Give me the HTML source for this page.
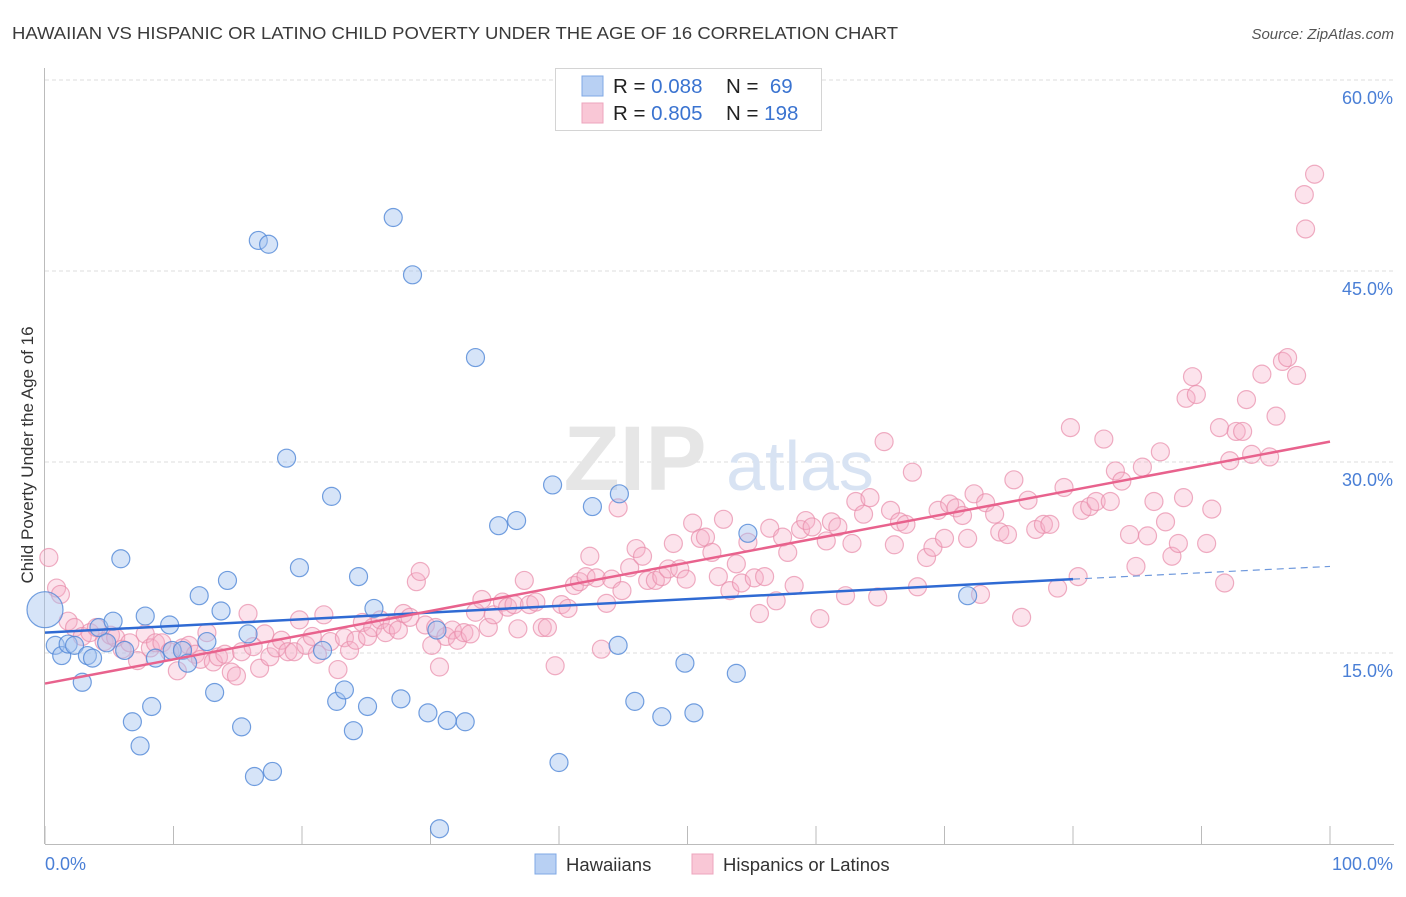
<!DOCTYPE html>
<html><head><meta charset="utf-8">
<style>
html,body{margin:0;padding:0;background:#fff;}
body{width:1406px;height:892px;overflow:hidden;font-family:"Liberation Sans",sans-serif;}
svg text{font-family:"Liberation Sans",sans-serif;}
</style></head>
<body>
<svg id="chart" width="1406" height="892" viewBox="0 0 1406 892" xmlns="http://www.w3.org/2000/svg">
<text x="12" y="39" font-size="17.5" fill="#3a3a3a" textLength="886" lengthAdjust="spacingAndGlyphs">HAWAIIAN VS HISPANIC OR LATINO CHILD POVERTY UNDER THE AGE OF 16 CORRELATION CHART</text>
<text x="1394" y="39" font-size="15" fill="#555" text-anchor="end" font-style="italic">Source: ZipAtlas.com</text>
<g id="grid"></g>
<g>
<text x="635" y="490" font-size="92" fill="#e6e6e6" font-family="Liberation Serif" text-anchor="middle" font-weight="bold">ZIP</text>
<text x="800" y="490" font-size="70" fill="#d8e3f3" text-anchor="middle">atlas</text>
</g>
<g id="axes"></g>
<g id="pinkPts"></g>
<g id="bluePts"></g>
<g id="lines"></g>
<text transform="translate(33,455) rotate(-90)" font-size="17" fill="#333" text-anchor="middle">Child Poverty Under the Age of 16</text>
<g>
<rect x="555.5" y="68.5" width="266" height="62" fill="#fff" stroke="#d4d4d4"/>
<rect x="582" y="76" width="21" height="20" fill="#b8d0f3" stroke="#7fa8e6"/>
<rect x="582" y="103" width="21" height="20" fill="#f9c7d6" stroke="#eda5bd"/>
<text x="613" y="93" font-size="20.5" fill="#222">R = <tspan fill="#3a73d0">0.088</tspan></text>
<text x="726" y="93" font-size="20.5" fill="#222">N = <tspan fill="#3a73d0">&#160;69</tspan></text>
<text x="613" y="120" font-size="20.5" fill="#222">R = <tspan fill="#3a73d0">0.805</tspan></text>
<text x="726" y="120" font-size="20.5" fill="#222">N = <tspan fill="#3a73d0">198</tspan></text>
</g>
<g>
<rect x="535" y="854" width="21" height="20" fill="#b8d0f3" stroke="#7fa8e6"/>
<text x="566" y="871" font-size="18.5" fill="#333">Hawaiians</text>
<rect x="692" y="854" width="21" height="20" fill="#f9c7d6" stroke="#eda5bd"/>
<text x="723" y="871" font-size="18.5" fill="#333">Hispanics or Latinos</text>
</g>
</svg>
<script>
const yTicks=[15,30,45,60];
const yTickLabels=["15.0%","30.0%","45.0%","60.0%"];
const xTicks=[0,10,20,30,40,50,60,70,80,90,100];
const xEndLabels=["0.0%","100.0%"];
const blueX=[0,0.8,1.3,1.8,2.3,2.9,3.3,3.7,4.2,4.8,5.3,5.9,6.2,6.8,7.4,7.8,8.3,8.6,9.7,9.9,10.7,11.1,12.0,12.6,13.2,13.7,14.2,15.3,15.8,16.3,16.6,17.4,17.7,18.8,19.8,21.6,22.3,22.7,23.3,24.0,24.4,25.1,25.6,27.1,27.7,28.6,29.8,30.5,30.7,31.3,32.7,33.5,35.3,36.7,39.5,40.0,42.6,44.6,44.7,45.9,48.0,49.8,50.5,53.8,54.7,71.8];
const blueY=[18.4,15.6,14.8,15.7,15.6,12.7,14.8,14.6,17.0,15.8,17.5,22.4,15.2,9.6,7.7,17.9,10.8,14.6,17.2,15.2,15.2,14.2,19.5,15.9,11.9,18.3,20.7,9.2,16.5,5.3,47.4,47.1,5.7,30.3,21.7,15.2,27.3,11.2,12.1,8.9,21.0,10.8,18.5,49.2,11.4,44.7,10.3,16.8,1.2,9.7,9.6,38.2,25.0,25.4,28.2,6.4,26.5,15.6,27.5,11.2,10.0,14.2,10.3,13.4,24.4,19.5];
const pinkX=[0.3,0.9,1.2,1.8,2.3,2.9,3.5,4.0,4.6,5.1,5.5,6.0,6.6,7.2,7.8,8.2,8.6,9.1,9.7,10.3,10.7,11.2,11.7,12.1,12.6,13.1,13.5,14.0,14.5,14.9,15.3,15.8,16.2,16.7,17.1,17.5,18.0,18.4,18.9,19.4,19.8,20.3,20.8,21.2,21.7,22.2,22.8,23.3,23.7,24.2,24.7,25.1,25.5,26.1,26.5,27.0,27.5,27.9,28.4,28.9,29.2,29.6,30.1,30.4,30.7,31.2,31.7,32.1,32.6,33.1,33.5,34.0,34.5,34.9,35.6,36.0,36.5,36.8,37.3,37.7,38.2,38.7,39.1,39.7,40.2,40.7,41.2,41.6,42.1,42.4,42.9,43.3,43.7,44.1,44.6,44.9,45.5,46.0,46.5,46.9,47.5,48.0,48.5,48.9,49.4,49.9,50.4,51.0,51.4,51.9,52.4,52.8,53.3,53.8,54.2,54.7,55.2,55.6,56.0,56.4,56.9,57.4,57.8,58.3,58.8,59.2,59.7,60.3,60.8,61.2,61.7,62.3,62.8,63.1,63.7,64.2,64.8,65.3,65.8,66.1,66.5,67.0,67.5,67.9,68.6,69.1,69.5,70.0,70.4,70.9,71.4,71.8,72.3,72.8,73.2,73.9,74.3,74.9,75.4,76.0,76.5,77.1,77.7,78.2,78.8,79.3,79.8,80.4,80.7,81.3,81.8,82.4,82.9,83.3,83.8,84.4,84.9,85.4,85.8,86.3,86.8,87.2,87.7,88.2,88.6,88.8,89.3,89.6,90.4,90.8,91.4,91.8,92.2,92.7,93.2,93.5,93.9,94.7,95.3,95.8,96.3,96.7,97.4,98.0,98.1,98.8];
const pinkY=[22.5,20.1,19.6,17.5,17.0,16.3,16.6,17.0,15.9,16.4,16.2,15.3,15.8,14.4,16.5,15.4,15.8,15.8,15.1,13.6,15.4,15.6,14.9,14.5,16.6,14.3,14.7,14.9,13.5,13.2,15.1,18.1,15.5,13.8,16.5,14.7,15.4,16.0,15.1,15.1,17.6,15.6,16.3,14.9,18.0,15.9,13.7,16.2,15.2,16.0,17.4,16.3,17.0,17.6,16.6,17.2,16.8,18.1,17.8,20.6,21.4,17.2,15.6,17.0,13.9,16.3,16.8,16.0,16.6,16.5,18.2,19.2,17.0,18.0,19.0,18.6,18.8,16.9,20.7,18.8,19.0,17.0,17.0,14.0,18.8,18.5,20.3,20.6,21.0,22.6,20.9,15.3,18.9,20.8,26.4,19.9,21.7,23.2,22.6,20.7,20.7,21.0,21.6,23.6,21.6,20.8,25.2,24.0,24.1,22.9,21.0,25.5,19.9,22.0,20.5,23.7,20.9,18.1,21.0,24.8,19.1,24.1,22.9,20.3,24.7,25.4,24.9,17.7,23.8,25.3,24.9,19.5,23.6,26.9,25.9,27.2,19.4,31.6,26.2,23.5,25.3,25.1,29.2,20.2,22.5,23.3,26.2,24.0,26.7,26.4,25.8,24.0,27.5,19.6,26.8,25.9,24.5,24.3,28.6,17.8,27.0,24.7,25.1,25.1,20.1,28.0,32.7,21.0,26.2,26.5,26.9,31.8,26.9,29.3,28.5,24.3,21.8,29.6,24.2,26.9,30.8,25.3,22.6,23.6,27.2,35.0,36.7,35.3,23.6,26.3,32.7,20.5,30.1,32.4,32.4,34.9,30.6,36.9,30.4,33.6,37.9,38.2,36.8,51.0,48.3,52.6];
const blueTrend=[0,16.6,80,20.8,100,21.8];
const pinkTrend=[0,12.6,100,31.6];

const NS="http://www.w3.org/2000/svg";
const X0=45,X1=1330,Y0=844,PXY=191/15;
function sx(v){return X0+(X1-X0)*v/100;}
function sy(v){return Y0-v*PXY;}
function mk(tag,attrs,parent){const e=document.createElementNS(NS,tag);for(const k in attrs)e.setAttribute(k,attrs[k]);parent.appendChild(e);return e;}

const grid=document.getElementById('grid');
yTicks.forEach((t,i)=>{
  const l=mk('line',{x1:45,x2:1394,y1:sy(t),y2:sy(t),stroke:'#dcdcdc','stroke-dasharray':'4,3'},grid);
  
  
  const tx=mk('text',{x:1393,y:sy(t)+24,'font-size':18,fill:'#4a7fd6','text-anchor':'end'},grid);
  tx.textContent=yTickLabels[i];
  
  
});
const axes=document.getElementById('axes');
const ax=mk('line',{x1:45,x2:1394,y1:Y0+0.5,y2:Y0+0.5,stroke:'#bbb'},axes);


const ay=mk('line',{x1:44.5,x2:44.5,y1:68,y2:Y0,stroke:'#bbb'},axes);


xTicks.forEach(t=>{
  const l=mk('line',{x1:sx(t),x2:sx(t),y1:Y0,y2:Y0-18,stroke:'#bbb'},axes);
  
  
});
const xl0=mk('text',{x:45,y:870,'font-size':18,fill:'#4a7fd6'},axes);
xl0.textContent=xEndLabels[0];


const xl1=mk('text',{x:1393,y:870,'font-size':18,fill:'#4a7fd6','text-anchor':'end'},axes);
xl1.textContent=xEndLabels[1];



const pg=document.getElementById('pinkPts');
pinkX.forEach((x,i)=>{
  const c=mk('circle',{cx:sx(x),cy:sy(pinkY[i]),r:9,fill:'rgba(246,176,200,0.35)',stroke:'rgba(232,140,170,0.7)','stroke-width':1.2},pg);
  
  
});
const bg=document.getElementById('bluePts');
blueX.forEach((x,i)=>{
  const c=mk('circle',{cx:sx(x),cy:sy(blueY[i]),r:i===0?18:9,fill:'rgba(165,196,240,0.45)',stroke:'rgba(80,135,215,0.8)','stroke-width':1.2},bg);
  
  
});
const lg=document.getElementById('lines');
const bl=mk('line',{x1:sx(blueTrend[0]),y1:sy(blueTrend[1]),x2:sx(blueTrend[2]),y2:sy(blueTrend[3]),stroke:'#2f6ad3','stroke-width':2.5},lg);


const bd=mk('line',{x1:sx(blueTrend[2]),y1:sy(blueTrend[3]),x2:sx(blueTrend[4]),y2:sy(blueTrend[5]),stroke:'#6e98dc','stroke-width':1.2,'stroke-dasharray':'7,5'},lg);


const pl=mk('line',{x1:sx(pinkTrend[0]),y1:sy(pinkTrend[1]),x2:sx(pinkTrend[2]),y2:sy(pinkTrend[3]),stroke:'#e8628d','stroke-width':2.5},lg);


</script>
</body></html>
